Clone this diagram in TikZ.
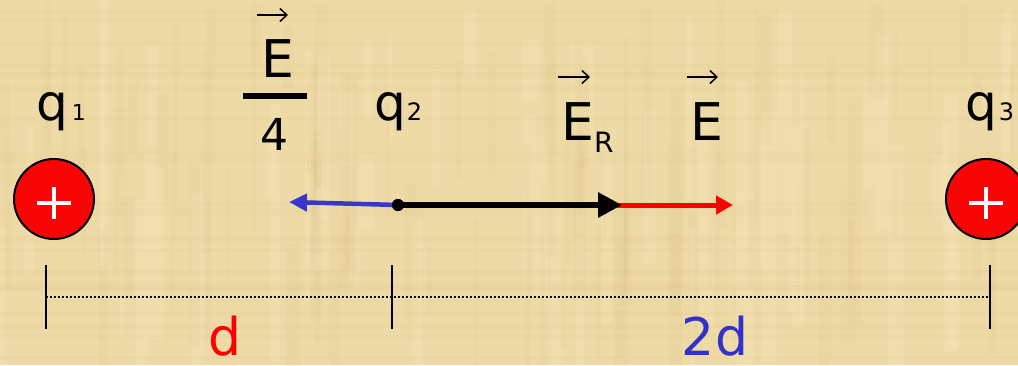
\documentclass[tikz,border=0pt]{standalone}
\usepackage{fontspec}
\setmainfont{DejaVu Sans}
\usetikzlibrary{arrows.meta}
\definecolor{parch}{RGB}{238,218,166}
\definecolor{streak}{RGB}{210,180,120}
\definecolor{lightstreak}{RGB}{248,234,196}
\definecolor{chargered}{RGB}{250,5,5}
\definecolor{vecblue}{RGB}{55,55,205}
\definecolor{lblblue}{RGB}{50,50,200}
\newcommand{\bigfs}[1]{\fontsize{#1}{#1}\selectfont}
\begin{document}
\begin{tikzpicture}[x=1pt,y=-1pt,
  charge/.style={circle,draw=black,line width=2pt,fill=chargered,minimum size=80pt,inner sep=0pt},
  plussign/.style={white,line width=4.5pt},
  lbl/.style={inner sep=0pt,anchor=base},
  qlbl/.style={inner sep=0pt,anchor=base west},
  vecacc/.style={line width=1.5pt,-{Straight Barb[length=7pt,width=13pt]}},
  ticks/.style={line width=2pt},
  dimline/.style={line width=2pt,dash pattern=on 2pt off 2pt}]
\useasboundingbox (0,0) rectangle (1018,365);
\clip (0,0) rectangle (1018,365);
% parchment background
\fill[parch] (0,0) rectangle (1018,365);
\pgfmathsetseed{11}
\foreach \i in {1,...,90}{
  \pgfmathsetmacro{\xx}{rnd*1018}
  \pgfmathsetmacro{\ww}{3+rnd*12}
  \pgfmathsetmacro{\yy}{rnd*250}
  \pgfmathsetmacro{\hh}{60+rnd*200}
  \fill[streak,opacity=0.07] (\xx,\yy) rectangle ++(\ww,\hh);
}
\foreach \i in {1,...,60}{
  \pgfmathsetmacro{\xx}{rnd*1018}
  \pgfmathsetmacro{\ww}{4+rnd*14}
  \pgfmathsetmacro{\yy}{rnd*250}
  \pgfmathsetmacro{\hh}{60+rnd*200}
  \fill[lightstreak,opacity=0.2] (\xx,\yy) rectangle ++(\ww,\hh);
}
\foreach \i in {1,...,25}{
  \pgfmathsetmacro{\yy}{rnd*365}
  \pgfmathsetmacro{\hh}{2+rnd*6}
  \fill[streak,opacity=0.06] (0,\yy) rectangle ++(1018,\hh);
}
% charges
\node[charge] (c1) at (54,199) {};
\draw[plussign] ([shift={(-17,4)}]c1.center) -- ([shift={(17,4)}]c1.center);
\draw[plussign] ([shift={(0,-12)}]c1.center) -- ([shift={(0,20)}]c1.center);
\node[charge] (c3) at (986,199) {};
\draw[plussign] ([shift={(-17,4)}]c3.center) -- ([shift={(17,4)}]c3.center);
\draw[plussign] ([shift={(0,-12)}]c3.center) -- ([shift={(0,20)}]c3.center);
% charge labels
\node[qlbl] (q1) at (36,120) {\bigfs{50}q\bigfs{22}\kern4pt 1};
\node[qlbl] (q2) at (374,120) {\bigfs{50}q\bigfs{24}\kern1pt 2};
\node[qlbl] (q3) at (965,120) {\bigfs{50}q\bigfs{24}\kern2pt 3};
% E/4
\node[lbl] (Efrac) at (278,77) {\bigfs{52}E};
\draw[vecacc] (257,15) -- (288,15);
\node[fill=black,minimum width=64pt,minimum height=6pt,inner sep=0pt] (bar) at (275,96) {};
\node[lbl] (four) at (274,150) {\bigfs{44}4};
% E_R and E
\node[qlbl] (ER) at (561,140) {\bigfs{52}E\bigfs{28}\raisebox{-12pt}{R}};
\draw[vecacc] (558,77) -- (590,77);
\node[lbl] (E2) at (707,140) {\bigfs{52}E};
\draw[vecacc] (687,77) -- (718,77);
% field vectors
\node[circle,fill=black,minimum size=12pt,inner sep=0pt] (p2) at (398,205) {};
\coordinate (blk) at (622,205);
\coordinate (redstart) at (605,205);
\coordinate (redtip) at (733,205);
\coordinate (bluetip) at (289,202);
\draw[red,line width=5pt,-{Triangle[length=17pt,width=18pt]}] (redstart) -- (redtip);
\draw[vecblue,line width=4.5pt,-{Triangle[length=18pt,width=17pt]}] (p2.center) -- (bluetip);
\draw[black,line width=6pt,-{Triangle[length=24pt,width=24pt]}] (p2.center) -- (blk);
\node[circle,fill=black,minimum size=12pt,inner sep=0pt] at (p2) {};
% distances
\coordinate (m1) at (46,297);
\coordinate (m2) at (392,297);
\coordinate (m3) at (990,297);
\draw[dimline] (m1) -- (m3);
\draw[ticks] ([yshift=32pt]m1) -- ([yshift=-32pt]m1);
\draw[ticks] ([yshift=32pt]m2) -- ([yshift=-32pt]m2);
\draw[ticks] ([yshift=32pt]m3) -- ([yshift=-32pt]m3);
\node[lbl,text=red,text depth=0pt] (dl) at (225,355) {\bigfs{52}d};
\node[lbl,text=lblblue,text depth=0pt] (d2) at (715,355) {\bigfs{52}2d};
\end{tikzpicture}
\end{document}
